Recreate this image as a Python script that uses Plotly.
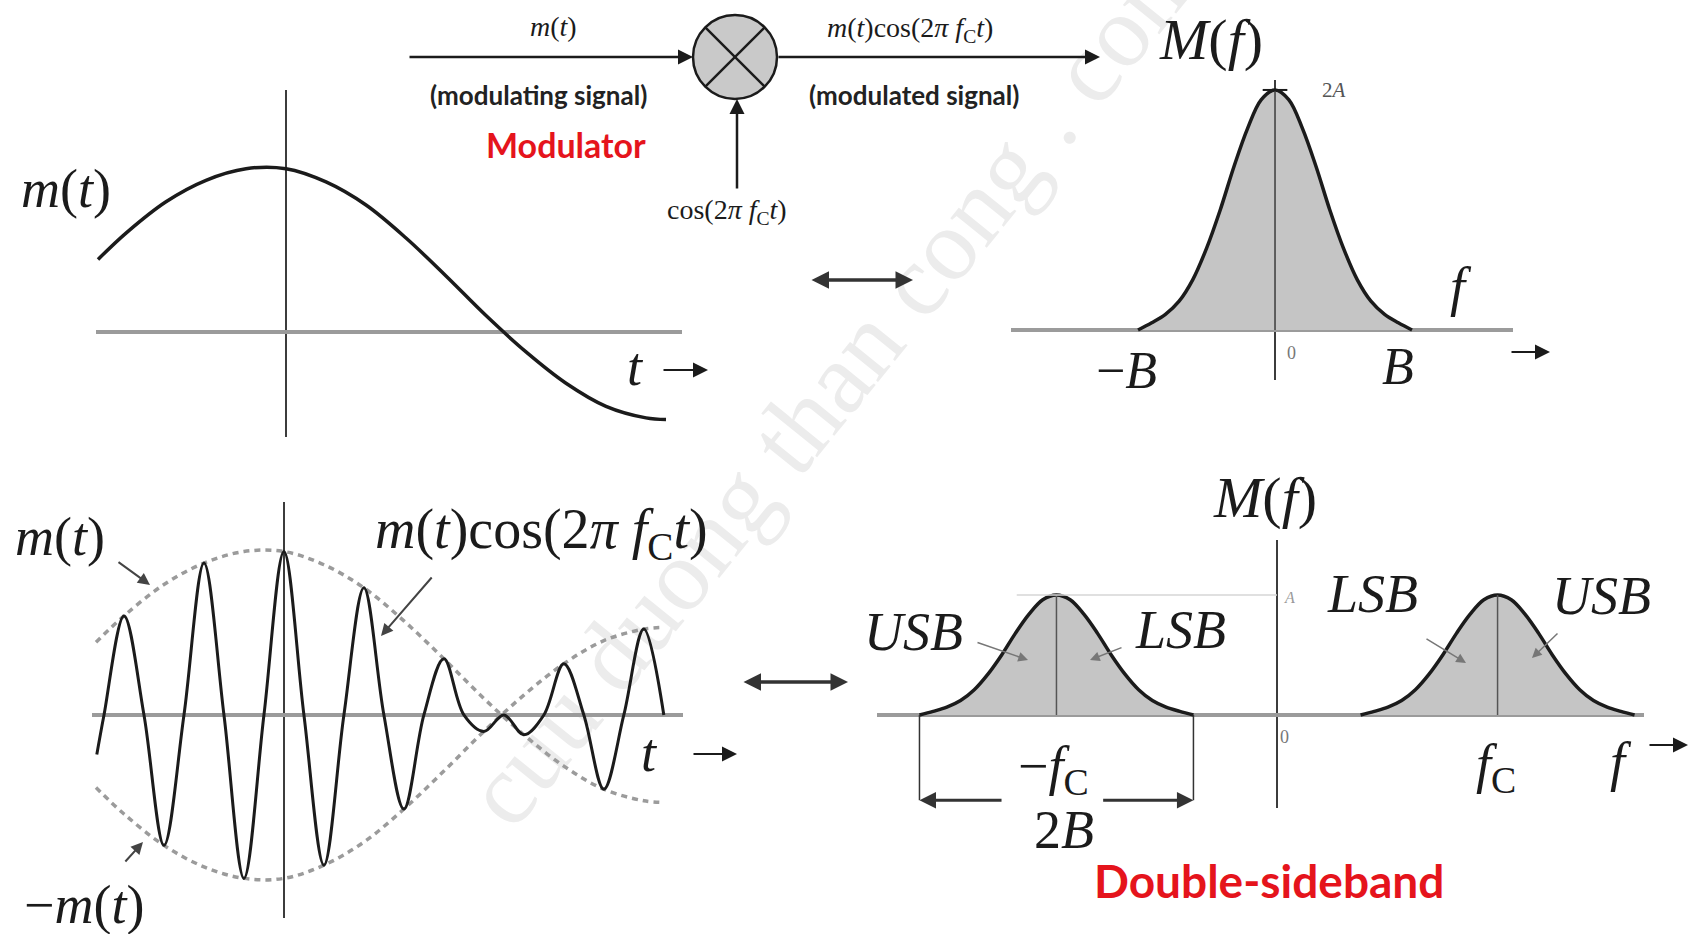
import plotly.graph_objects as go

W, H = 1694, 934

# ---- data -------------------------------------------------------------
# message signal m(t); t in carrier periods (f_C = 1), m in units of its peak
t_msg = [-2.35, -2.0, -1.5, -1.0, -0.5, 0.0, 0.5, 1.0, 1.5, 2.0, 2.5, 3.0, 3.5, 4.0, 4.5, 4.75]
m_msg = [0.44, 0.60, 0.79, 0.92, 0.99, 0.99, 0.91, 0.77, 0.57, 0.34, 0.10, -0.12, -0.31, -0.45, -0.52, -0.53]

# DSB waveform m(t)cos(2*pi*f_C*t): carrier peaks and zero crossings
t_dsb = [-2.34, -2.25, -2.0, -1.75, -1.5, -1.25, -1.0, -0.75, -0.5, -0.25, 0.0, 0.25, 0.5, 0.75,
         1.0, 1.25, 1.5, 1.75, 2.0, 2.25, 2.5, 2.75, 3.0, 3.25, 3.5, 3.75, 4.0, 4.25, 4.5, 4.75]
y_dsb = [-0.24, 0.0, 0.60, 0.0, -0.79, 0.0, 0.92, 0.0, -0.99, 0.0, 0.99, 0.0, -0.91, 0.0,
         0.77, 0.0, -0.57, 0.0, 0.34, 0.0, -0.10, 0.0, -0.12, 0.0, 0.31, 0.0, -0.45, 0.0, 0.52, 0.0]

# baseband spectrum M(f); f in units of B, magnitude in units of A (peak 2A)
f_base = [-1.0, -0.9, -0.8, -0.7, -0.6, -0.5, -0.4, -0.3, -0.2, -0.1, 0.0,
          0.1, 0.2, 0.3, 0.4, 0.5, 0.6, 0.7, 0.8, 0.9, 1.0]
M_base = [0.00, 0.06, 0.13, 0.24, 0.42, 0.68, 1.00, 1.36, 1.68, 1.92, 2.00,
          1.92, 1.68, 1.36, 1.00, 0.68, 0.42, 0.24, 0.13, 0.06, 0.00]
peak_level = 2.0     # 2A
fc = 1.61            # carrier frequency in units of B

# ---- styling ----------------------------------------------------------
INK = "#1b1b1b"
AXIS_H = "#9b9b9b"
AXIS_V = "#3c3c3c"
FILL = "#c5c5c5"
RED = "#e5141c"
SERIF = "Liberation Serif"
SANS = "Lato"


def P(x, y):
    return x / W, 1 - y / H


def dom_x(x0, x1):
    return [x0 / W, x1 / W]


def dom_y(y0, y1):
    return [1 - y1 / H, 1 - y0 / H]


fig = go.Figure()

# panel 1: m(t)
fig.add_trace(go.Scatter(x=t_msg, y=m_msg, mode="lines",
                         line=dict(color=INK, width=3.5, shape="spline"),
                         xaxis="x", yaxis="y"))

# panel 2: envelopes +-m(t) and the DSB waveform
fig.add_trace(go.Scatter(x=t_msg, y=m_msg, mode="lines",
                         line=dict(color=AXIS_H, width=3.5, dash="6px,5px", shape="spline"),
                         xaxis="x2", yaxis="y2"))
fig.add_trace(go.Scatter(x=t_msg, y=[-v for v in m_msg], mode="lines",
                         line=dict(color=AXIS_H, width=3.5, dash="6px,5px", shape="spline"),
                         xaxis="x2", yaxis="y2"))
fig.add_trace(go.Scatter(x=t_dsb, y=y_dsb, mode="lines",
                         line=dict(color=INK, width=3, shape="spline"),
                         xaxis="x2", yaxis="y2"))

# panel 3: baseband spectrum
fig.add_trace(go.Scatter(x=f_base, y=M_base, mode="lines", fill="tozeroy", fillcolor=FILL,
                         line=dict(color=INK, width=3.5, shape="spline"),
                         xaxis="x3", yaxis="y3"))
fig.add_trace(go.Scatter(x=[0, 0], y=[0, peak_level], mode="lines",
                         line=dict(color=AXIS_V, width=1.5), xaxis="x3", yaxis="y3"))
fig.add_trace(go.Scatter(x=[-0.09, 0.09], y=[peak_level, peak_level], mode="lines",
                         line=dict(color=INK, width=2), xaxis="x3", yaxis="y3"))

# panel 4: DSB spectrum, half of M(f) shifted to -fc and +fc
half = [v / 2 for v in M_base]
for sgn in (-1, 1):
    fig.add_trace(go.Scatter(x=[f + sgn * fc for f in f_base], y=half, mode="lines",
                             fill="tozeroy", fillcolor=FILL,
                             line=dict(color=INK, width=3.5, shape="spline"),
                             xaxis="x4", yaxis="y4"))
    fig.add_trace(go.Scatter(x=[sgn * fc, sgn * fc], y=[0, max(half)], mode="lines",
                             line=dict(color="#555555", width=1.5), xaxis="x4", yaxis="y4"))
# faint level line at A
fig.add_trace(go.Scatter(x=[-fc - 0.29, 0], y=[max(half), max(half)], mode="lines",
                         line=dict(color="#d6d6d6", width=1.5), xaxis="x4", yaxis="y4"))
# bandwidth marker 2B
dim_y = -0.71
for fx in (-fc - 1, -fc + 1):
    fig.add_trace(go.Scatter(x=[fx, fx], y=[0, dim_y], mode="lines",
                             line=dict(color="#333333", width=1.5), xaxis="x4", yaxis="y4"))

# ---- axes -------------------------------------------------------------
def xax(domain, rng, anchor):
    return dict(domain=domain, range=rng, anchor=anchor, showgrid=False, showticklabels=False,
                ticks="", showline=False, zeroline=True, zerolinecolor=AXIS_V,
                zerolinewidth=1.6, fixedrange=True)


def yax(domain, rng, anchor):
    return dict(domain=domain, range=rng, anchor=anchor, showgrid=False, showticklabels=False,
                ticks="", showline=False, zeroline=True, zerolinecolor=AXIS_H,
                zerolinewidth=4, fixedrange=True)


layout_axes = dict(
    xaxis=xax(dom_x(96, 682), [-2.375, 4.95], "y"),
    yaxis=yax(dom_y(90, 437), [-0.636, 1.467], "x"),
    xaxis2=xax(dom_x(92, 683), [-2.4, 4.99], "y2"),
    yaxis2=yax(dom_y(502, 918), [-1.23, 1.29], "x2"),
    xaxis3=xax(dom_x(1011, 1513), [-1.927, 1.737], "y3"),
    yaxis3=yax(dom_y(80, 380), [-0.417, 2.083], "x3"),
    xaxis4=xax(dom_x(877, 1644), [-2.92, 2.679], "y4"),
    yaxis4=yax(dom_y(540, 808), [-0.775, 1.458], "x4"),
)

# ---- annotations ------------------------------------------------------
ann = []


def text(x, y, s, size, family=SERIF, color=INK):
    px, py = P(x, y)
    ann.append(dict(x=px, y=py, xref="paper", yref="paper", text=s, showarrow=False,
                    font=dict(family=family, size=size, color=color),
                    xanchor="center", yanchor="middle"))


def arrow(x0, y0, x1, y1, color=INK, width=2.5, size=1.2, head=2, both=False):
    px, py = P(x1, y1)
    d = dict(x=px, y=py, xref="paper", yref="paper", ax=x0 - x1, ay=y0 - y1,
             axref="pixel", ayref="pixel", text="", showarrow=True, arrowhead=head,
             arrowsize=size, arrowwidth=width, arrowcolor=color, standoff=0)
    if both:
        d.update(arrowside="end+start", startarrowhead=head, startarrowsize=size, startstandoff=0)
    ann.append(d)


MT = "<i>m</i>(<i>t</i>)"
COS = "cos(2<i>π</i> <i>f</i><sub>C</sub><i>t</i>)"

# modulator block diagram
text(553, 27, MT, 28)
text(538, 95, "<b>(modulating signal)</b>", 26, SANS, "#222222")
text(566, 144, "<b>Modulator</b>", 34, SANS, RED)
text(910, 29, MT + COS, 28)
text(914, 95, "<b>(modulated signal)</b>", 26, SANS, "#222222")
text(727, 211, COS, 28)
arrow(408, 57, 693, 57)
arrow(777, 57, 1100, 57)
arrow(737, 190, 737, 99)

# panel labels
text(66, 189, MT, 54)
text(635, 367, "<i>t</i>", 54)
arrow(662, 370, 708, 370, width=2, size=1.5)

text(1211, 40, "<i>M</i>(<i>f</i>)", 58)
text(1334, 90, "2<i>A</i>", 21, SERIF, "#555555")
text(1461, 287, "<i>f</i>", 54)
text(1126, 370, "−<i>B</i>", 52)
text(1398, 366, "<i>B</i>", 52)
text(1291, 353, "0", 18, SERIF, "#777777")
arrow(1510, 352, 1550, 352, width=2, size=1.5)

text(60, 537, MT, 54)
text(84, 905, "−" + MT, 54)
text(541, 533, MT + COS, 56)
text(649, 753, "<i>t</i>", 54)
arrow(692, 754, 737, 754, width=2, size=1.5)
arrow(117, 561, 150, 585, color="#444444", width=2, size=1.2)
arrow(124, 863, 143, 842, color="#444444", width=2, size=1.2)
arrow(433, 576, 381, 636, color="#444444", width=2, size=1.2)

text(1265, 497, "<i>M</i>(<i>f</i>)", 58)
text(913, 632, "<i>USB</i>", 54)
text(1180, 630, "<i>LSB</i>", 54)
text(1372, 594, "<i>LSB</i>", 54)
text(1601, 596, "<i>USB</i>", 54)
text(1053, 769, "−<i>f</i><sub>C</sub>", 54)
text(1064, 830, "2<i>B</i>", 54)
text(1496, 767, "<i>f</i><sub>C</sub>", 54)
text(1621, 762, "<i>f</i>", 54)
text(1284, 737, "0", 18, SERIF, "#777777")
text(1289, 597, "<i>A</i>", 16, SERIF, "#999999")
arrow(1648, 745, 1688, 745, width=2, size=1.5)
arrow(976, 642, 1028, 660, color="#777777", width=1.5, size=1.3)
arrow(1123, 647, 1090, 660, color="#777777", width=1.5, size=1.3)
arrow(1425, 638, 1466, 663, color="#777777", width=1.5, size=1.3)
arrow(1559, 632, 1532, 658, color="#777777", width=1.5, size=1.3)
for head_f, tail_f in ((-fc - 1, -2.0), (-fc + 1, -1.28)):
    ann.append(dict(x=head_f, y=dim_y, xref="x4", yref="y4", ax=tail_f, ay=dim_y,
                    axref="x4", ayref="y4", text="", showarrow=True, arrowhead=2,
                    arrowsize=1.1, arrowwidth=3, arrowcolor="#333333", standoff=0))

text(1269, 880, "<b>Double-sideband</b>", 46, SANS, RED)

# Fourier-pair arrows
arrow(810, 280, 913, 280, color="#333333", width=3.5, size=1.0, both=True)
arrow(742, 682, 848, 682, color="#333333", width=3.5, size=1.0, both=True)

# ---- shapes: multiplier and watermark ---------------------------------
cx, cy, r = 735, 57, 42
k = r * 0.7071
wm0, wm1 = (470, 812), (1180, -62)
shapes = [
    dict(type="line", xref="paper", yref="paper",
         x0=P(*wm0)[0], y0=P(*wm0)[1], x1=P(*wm1)[0], y1=P(*wm1)[1],
         line=dict(width=0, color="rgba(0,0,0,0)"), layer="below",
         label=dict(text="cuu duong than cong . com", textangle=-51, textposition="middle",
                    yanchor="middle",
                    font=dict(family=SERIF, size=102, color="#ececec"))),
    dict(type="circle", xref="paper", yref="paper",
         x0=P(cx - r, 0)[0], x1=P(cx + r, 0)[0], y0=P(0, cy + r)[1], y1=P(0, cy - r)[1],
         fillcolor="#c9c9c9", line=dict(color=INK, width=2.5)),
    dict(type="line", xref="paper", yref="paper",
         x0=P(cx - k, 0)[0], x1=P(cx + k, 0)[0], y0=P(0, cy - k)[1], y1=P(0, cy + k)[1],
         line=dict(color=INK, width=2.5)),
    dict(type="line", xref="paper", yref="paper",
         x0=P(cx - k, 0)[0], x1=P(cx + k, 0)[0], y0=P(0, cy + k)[1], y1=P(0, cy - k)[1],
         line=dict(color=INK, width=2.5)),
]

fig.update_layout(
    width=W, height=H,
    margin=dict(l=0, r=0, t=0, b=0),
    paper_bgcolor="white", plot_bgcolor="rgba(0,0,0,0)",
    showlegend=False, hovermode=False,
    annotations=ann, shapes=shapes,
    **layout_axes,
)

fig.write_html("out.html", config={"displayModeBar": False})
